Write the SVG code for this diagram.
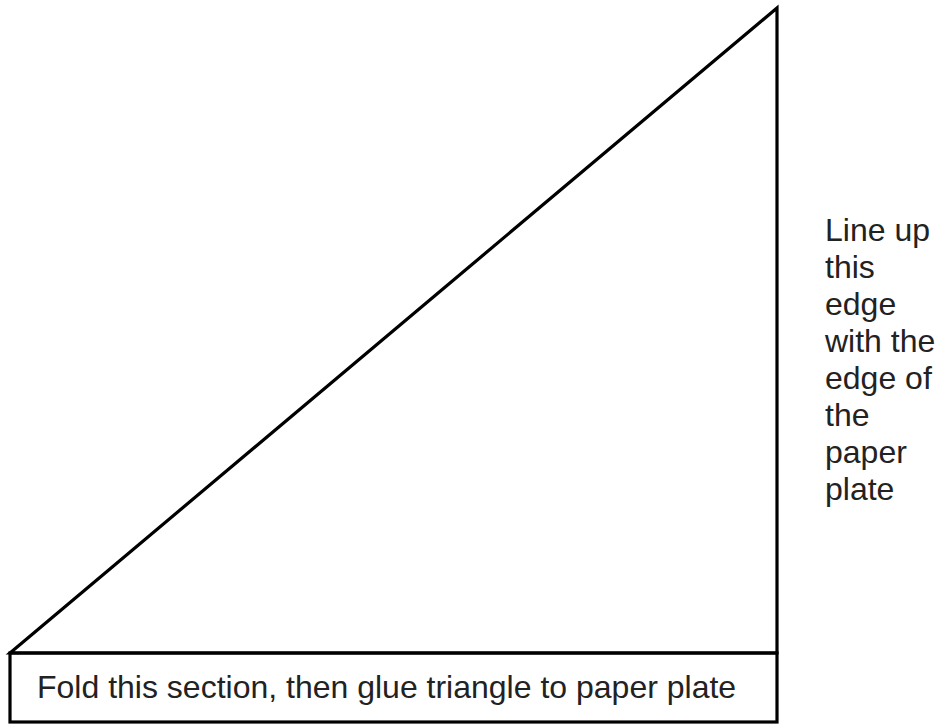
<svg xmlns="http://www.w3.org/2000/svg" width="938" height="726" viewBox="0 0 938 726">
<style>
.sh{fill:none;stroke:#000;stroke-width:3.2;stroke-linejoin:miter}
.t{font-family:"Liberation Sans",Arial,sans-serif;font-size:32px;fill:#222}
</style>
<rect width="938" height="726" fill="#fff"/>
<g id="triangle">
<polygon class="sh" points="10,653 777,8 777,653"/>
</g>
<g id="fold-tab">
<rect class="sh" x="10" y="653" width="767" height="69"/>
<text class="t" x="37" y="698">Fold this section, then glue triangle to paper plate</text>
</g>
<g id="edge-note">
<text class="t" x="825">
<tspan x="825" y="241">Line up</tspan>
<tspan x="825" y="278">this</tspan>
<tspan x="825" y="315">edge</tspan>
<tspan x="825" y="352">with the</tspan>
<tspan x="825" y="389">edge of</tspan>
<tspan x="825" y="426">the</tspan>
<tspan x="825" y="463">paper</tspan>
<tspan x="825" y="500">plate</tspan>
</text>
</g>
</svg>
